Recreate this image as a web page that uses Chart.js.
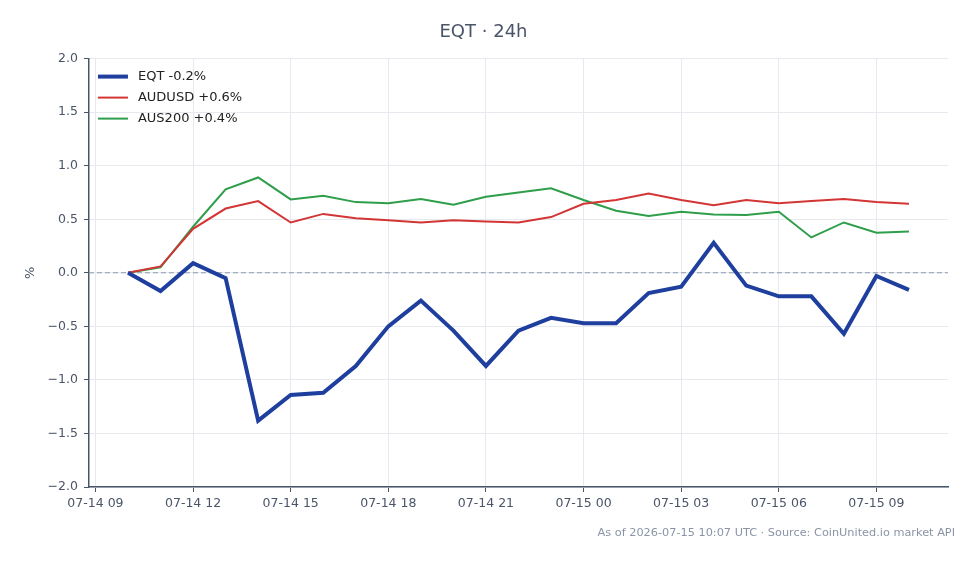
<!DOCTYPE html>
<html>
<head>
<meta charset="utf-8">
<script src="https://cdn.jsdelivr.net/npm/chart.js@4.4.1/dist/chart.umd.min.js"></script>
<style>
  html, body { margin: 0; padding: 0; background: #ffffff; }
  #chart { display: block; }
</style>
</head>
<body>
<canvas id="chart" width="979" height="564"></canvas>
<script>
// Horas (07-14 10:00 ate 07-15 10:00)
const times = [
  "07-14 10", "07-14 11", "07-14 12", "07-14 13", "07-14 14", "07-14 15",
  "07-14 16", "07-14 17", "07-14 18", "07-14 19", "07-14 20", "07-14 21",
  "07-14 22", "07-14 23", "07-15 00", "07-15 01", "07-15 02", "07-15 03",
  "07-15 04", "07-15 05", "07-15 06", "07-15 07", "07-15 08", "07-15 09",
  "07-15 10",
];

const eqt = [
  0.0, -0.17, 0.09, -0.05, -1.38, -1.14, -1.12, -0.87, -0.5, -0.26, -0.54, -0.87,
  -0.54, -0.42, -0.47, -0.47, -0.19, -0.13, 0.28, -0.12, -0.22, -0.22, -0.57, -0.03,
  -0.16,
];
const audusd = [
  0.0, 0.06, 0.41, 0.6, 0.67, 0.47, 0.55, 0.51, 0.49, 0.47, 0.49, 0.48,
  0.47, 0.52, 0.645, 0.68, 0.74, 0.68, 0.63, 0.68, 0.65, 0.67, 0.69, 0.66,
  0.645,
];
const aus200 = [
  0.0, 0.05, 0.43, 0.78, 0.89, 0.685, 0.72, 0.66, 0.65, 0.69, 0.635, 0.71,
  0.75, 0.79, 0.68, 0.58, 0.53, 0.57, 0.545, 0.54, 0.57, 0.33, 0.47, 0.375,
  0.385,
];

const xTickLabels = [
  "07-14 09", "07-14 12", "07-14 15", "07-14 18", "07-14 21",
  "07-15 00", "07-15 03", "07-15 06", "07-15 09",
];
const yTicks = [-2.0, -1.5, -1.0, -0.5, 0.0, 0.5, 1.0, 1.5, 2.0];

const footerText = "As of 2026-07-15 10:07 UTC · Source: CoinUnited.io market API";

// "07-14 10" -> horas desde 07-14 00:00
function toHours(label) {
  const day = parseInt(label.slice(3, 5), 10);
  const hour = parseInt(label.slice(6, 8), 10);
  return (day - 14) * 24 + hour;
}
function toPoints(values) {
  return values.map((v, i) => ({ x: toHours(times[i]), y: v }));
}

const fontFamily = "DejaVu Sans";
const textColor = "#4a5568";
const axisColor = "#4a5568";
const gridColor = "#e6e9ee";

// Linha tracejada no zero
const zeroLine = {
  id: "zeroLine",
  beforeDatasetsDraw(chart) {
    const { ctx, chartArea, scales } = chart;
    const y = scales.y.getPixelForValue(0);
    ctx.save();
    ctx.strokeStyle = "#8a98ad";
    ctx.lineWidth = 1;
    ctx.setLineDash([5, 3]);
    ctx.beginPath();
    ctx.moveTo(chartArea.left, y);
    ctx.lineTo(chartArea.right, y);
    ctx.stroke();
    ctx.restore();
  },
};

// Legenda dentro da area do grafico (canto superior esquerdo)
const innerLegend = {
  id: "innerLegend",
  afterDatasetsDraw(chart) {
    const { ctx, chartArea } = chart;
    ctx.save();
    ctx.font = "13px " + fontFamily;
    ctx.textBaseline = "middle";
    chart.data.datasets.forEach((ds, i) => {
      const y = chartArea.top + 18 + i * 21;
      const x = chartArea.left + 9;
      ctx.strokeStyle = ds.borderColor;
      ctx.lineWidth = ds.borderWidth;
      ctx.beginPath();
      ctx.moveTo(x, y);
      ctx.lineTo(x + 30, y);
      ctx.stroke();
      ctx.fillStyle = "#222222";
      ctx.fillText(ds.label, x + 40, y);
    });
    ctx.restore();
  },
};

// Rodape com a fonte
const footer = {
  id: "footer",
  afterDraw(chart) {
    const { ctx } = chart;
    ctx.save();
    ctx.font = "11.3px " + fontFamily;
    ctx.fillStyle = "#8a94a6";
    ctx.textAlign = "right";
    ctx.textBaseline = "middle";
    ctx.fillText(footerText, chart.width - 24, 533);
    ctx.restore();
  },
};

const ctx = document.getElementById("chart").getContext("2d");
const chart = new Chart(ctx, {
  type: "line",
  data: {
    datasets: [
      {
        label: "EQT -0.2%",
        data: toPoints(eqt),
        borderColor: "#1f3f9f",
        borderWidth: 4,
        pointRadius: 0,
        tension: 0,
      },
      {
        label: "AUDUSD +0.6%",
        data: toPoints(audusd),
        borderColor: "#d33535",
        borderWidth: 2,
        pointRadius: 0,
        tension: 0,
      },
      {
        label: "AUS200 +0.4%",
        data: toPoints(aus200),
        borderColor: "#2e9e4a",
        borderWidth: 2,
        pointRadius: 0,
        tension: 0,
      },
    ],
  },
  options: {
    responsive: false,
    animation: false,
    layout: {
      padding: { left: 19, right: 31, top: 0, bottom: 49 },
    },
    plugins: {
      title: {
        display: true,
        text: "EQT · 24h",
        color: textColor,
        font: { family: fontFamily, size: 18, weight: "normal" },
        padding: { top: 22, bottom: 15 },
      },
      legend: { display: false },
      tooltip: { enabled: false },
    },
    scales: {
      x: {
        type: "linear",
        min: 8.8,
        max: 35.2,
        afterBuildTicks(scale) {
          scale.ticks = xTickLabels.map((l) => ({ value: toHours(l) }));
        },
        ticks: {
          color: textColor,
          font: { family: fontFamily, size: 12.5 },
          maxRotation: 0,
          padding: 4,
          callback: (v, i) => xTickLabels[i],
        },
        grid: { color: gridColor, tickColor: axisColor, tickLength: 5 },
        border: { color: axisColor, width: 1.5 },
      },
      y: {
        min: -2,
        max: 2,
        afterBuildTicks(scale) {
          scale.ticks = yTicks.map((v) => ({ value: v }));
        },
        ticks: {
          color: textColor,
          font: { family: fontFamily, size: 12.5 },
          padding: 6,
          callback: (v) => (v < 0 ? "\u2212" + Math.abs(v).toFixed(1) : v.toFixed(1)),
        },
        title: {
          display: true,
          text: "%",
          color: textColor,
          font: { family: fontFamily, size: 13 },
          padding: { top: 4, bottom: 3 },
        },
        grid: { color: gridColor, tickColor: axisColor, tickLength: 5 },
        border: { color: axisColor, width: 1.5 },
      },
    },
  },
  plugins: [zeroLine, innerLegend, footer],
});
</script>
</body>
</html>
